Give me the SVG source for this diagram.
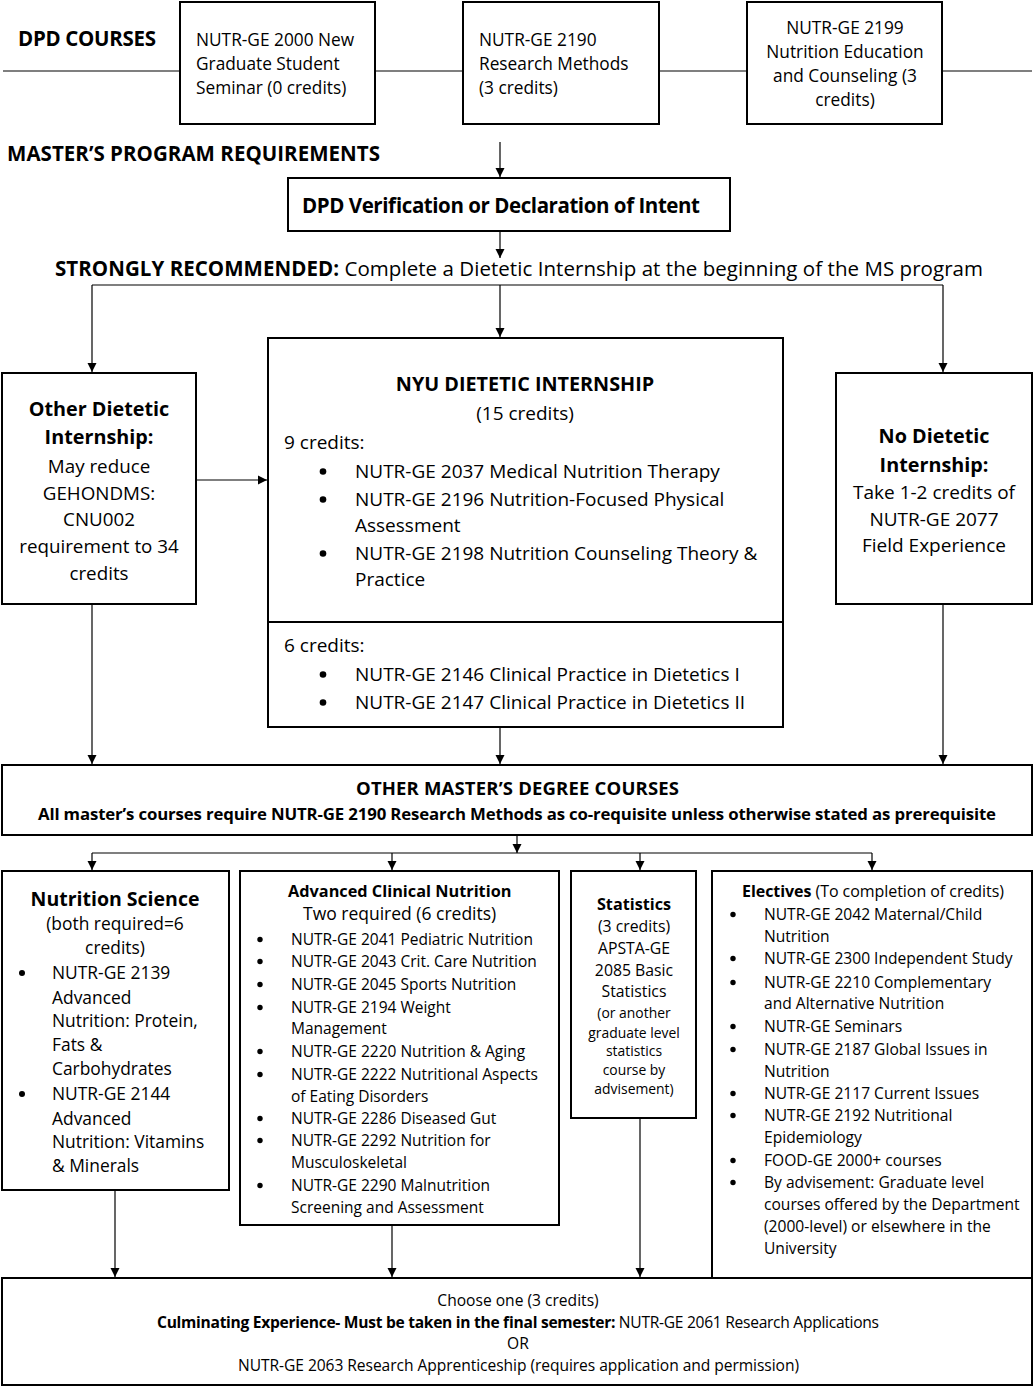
<svg xmlns="http://www.w3.org/2000/svg" width="1036" height="1387" viewBox="0 0 1036 1387">
<defs>
<marker id="ah" viewBox="0 0 10 10" refX="10" refY="5" markerWidth="9" markerHeight="10" markerUnits="userSpaceOnUse" orient="auto">
<path d="M0,0 L10,5 L0,10 z" fill="#000"/>
</marker>
<style>
text{font-family:"Open Sans","Noto Sans",sans-serif;fill:#000}
.b{font-weight:bold}
.c{text-anchor:middle}
.box{fill:#fff;stroke:#000;stroke-width:2}
.ln{fill:none;stroke:#000;stroke-width:1.2}
.ar{fill:none;stroke:#000;stroke-width:1.2;marker-end:url(#ah)}
.dot{fill:#000}
.t1{font-size:17.3px}
.hb{font-size:19.8px}
.m19{font-size:19px}
.od{font-size:18.8px}
.ns{font-size:17.4px}
.ac{font-size:15.5px}
.st{font-size:15.8px}
.s14{font-size:13.9px}
.el{font-size:15.6px}
.f16{font-size:15.6px}
</style>
</defs>
<rect width="1036" height="1387" fill="#fff"/>

<g id="connectors">
<line class="ln" x1="3" y1="71" x2="1032" y2="71"/>
<line class="ar" x1="500" y1="142" x2="500" y2="177"/>
<line class="ar" x1="500" y1="231" x2="500" y2="258"/>
<polyline class="ln" points="92,285 943,285"/>
<line class="ar" x1="92" y1="285" x2="92" y2="372"/>
<line class="ar" x1="500" y1="285" x2="500" y2="337"/>
<line class="ar" x1="943" y1="285" x2="943" y2="372"/>
<line class="ar" x1="196" y1="480" x2="267" y2="480"/>
<line class="ar" x1="92" y1="604" x2="92" y2="764"/>
<line class="ar" x1="500" y1="727" x2="500" y2="764"/>
<line class="ar" x1="943" y1="604" x2="943" y2="764"/>
<line class="ar" x1="517" y1="835" x2="517" y2="853"/>
<polyline class="ln" points="92,853 872,853"/>
<line class="ar" x1="92" y1="853" x2="92" y2="870"/>
<line class="ar" x1="392" y1="853" x2="392" y2="870"/>
<line class="ar" x1="640" y1="853" x2="640" y2="870"/>
<line class="ar" x1="872" y1="853" x2="872" y2="870"/>
<line class="ar" x1="115" y1="1190" x2="115" y2="1277"/>
<line class="ar" x1="392" y1="1225" x2="392" y2="1277"/>
<line class="ar" x1="640" y1="1118" x2="640" y2="1277"/>
</g>

<g id="title-dpd">
<text class="b" font-size="20.5" x="18" y="46" textLength="138">DPD COURSES</text>
</g>

<g id="n2000">
<rect class="box" x="180" y="2" width="195" height="122"/>
<text class="t1" x="196" y="46">NUTR-GE 2000 New</text>
<text class="t1" x="196" y="70">Graduate Student</text>
<text class="t1" x="196" y="94">Seminar (0 credits)</text>
</g>

<g id="n2190">
<rect class="box" x="463" y="2" width="196" height="122"/>
<text class="t1" x="479" y="46">NUTR-GE 2190</text>
<text class="t1" x="479" y="70">Research Methods</text>
<text class="t1" x="479" y="94">(3 credits)</text>
</g>

<g id="n2199">
<rect class="box" x="747" y="2" width="195" height="122"/>
<text class="t1 c" x="845" y="34">NUTR-GE 2199</text>
<text class="t1 c" x="845" y="58">Nutrition Education</text>
<text class="t1 c" x="845" y="82">and Counseling (3</text>
<text class="t1 c" x="845" y="106">credits)</text>
</g>

<g id="title-master">
<text class="b" font-size="20.5" x="7" y="161" textLength="373">MASTER’S PROGRAM REQUIREMENTS</text>
</g>

<g id="dpd-verification">
<rect class="box" x="288" y="178" width="442" height="53"/>
<text class="b" font-size="20.5" x="302" y="213" textLength="398">DPD Verification or Declaration of Intent</text>
</g>

<g id="recommended">
<text font-size="20.5" x="55" y="276" textLength="928"><tspan class="b">STRONGLY RECOMMENDED:</tspan> Complete a Dietetic Internship at the beginning of the MS program</text>
</g>

<g id="other-di">
<rect class="box" x="2" y="373" width="194" height="231"/>
<text class="b hb c" x="99" y="416">Other Dietetic</text>
<text class="b hb c" x="99" y="444">Internship:</text>
<text class="od c" x="99" y="473">May reduce</text>
<text class="od c" x="99" y="500">GEHONDMS:</text>
<text class="od c" x="99" y="526">CNU002</text>
<text class="od c" x="99" y="553">requirement to 34</text>
<text class="od c" x="99" y="580">credits</text>
</g>

<g id="nyu-di">
<rect class="box" x="268" y="338" width="515" height="389"/>
<line x1="268" y1="622" x2="783" y2="622" stroke="#000" stroke-width="2"/>
<text class="b hb c" x="525" y="391">NYU DIETETIC INTERNSHIP</text>
<text class="m19 c" x="525" y="420">(15 credits)</text>
<text class="m19" x="284" y="449">9 credits:</text>
<circle class="dot" cx="323" cy="471.5" r="3.3"/>
<text class="m19" x="355" y="478">NUTR-GE 2037 Medical Nutrition Therapy</text>
<circle class="dot" cx="323" cy="499.5" r="3.3"/>
<text class="m19" x="355" y="506">NUTR-GE 2196 Nutrition-Focused Physical</text>
<text class="m19" x="355" y="532">Assessment</text>
<circle class="dot" cx="323" cy="553.5" r="3.3"/>
<text class="m19" x="355" y="560">NUTR-GE 2198 Nutrition Counseling Theory &amp;</text>
<text class="m19" x="355" y="586">Practice</text>
<text class="m19" x="284" y="652">6 credits:</text>
<circle class="dot" cx="323" cy="674.5" r="3.3"/>
<text class="m19" x="355" y="681">NUTR-GE 2146 Clinical Practice in Dietetics I</text>
<circle class="dot" cx="323" cy="702.5" r="3.3"/>
<text class="m19" x="355" y="709">NUTR-GE 2147 Clinical Practice in Dietetics II</text>
</g>

<g id="no-di">
<rect class="box" x="836" y="373" width="196" height="231"/>
<text class="b hb c" x="934" y="443">No Dietetic</text>
<text class="b hb c" x="934" y="472">Internship:</text>
<text class="m19 c" x="934" y="499">Take 1-2 credits of</text>
<text class="m19 c" x="934" y="526">NUTR-GE 2077</text>
<text class="m19 c" x="934" y="552">Field Experience</text>
</g>

<g id="other-masters">
<rect class="box" x="2" y="765" width="1030" height="70"/>
<text class="b" font-size="18.5" x="356" y="795" textLength="323">OTHER MASTER’S DEGREE COURSES</text>
<text class="b" font-size="16.8" x="38" y="820" textLength="958">All master’s courses require NUTR-GE 2190 Research Methods as co-requisite unless otherwise stated as prerequisite</text>
</g>

<g id="nutrition-science">
<rect class="box" x="2" y="871" width="227" height="319"/>
<text class="b c" font-size="19.5" x="115" y="906">Nutrition Science</text>
<text class="ns c" x="115" y="930">(both required=6</text>
<text class="ns c" x="115" y="954">credits)</text>
<circle class="dot" cx="22" cy="973" r="3"/>
<text class="ns" x="52" y="979">NUTR-GE 2139</text>
<text class="ns" x="52" y="1004">Advanced</text>
<text class="ns" x="52" y="1027">Nutrition: Protein,</text>
<text class="ns" x="52" y="1051">Fats &amp;</text>
<text class="ns" x="52" y="1075">Carbohydrates</text>
<circle class="dot" cx="22" cy="1094" r="3"/>
<text class="ns" x="52" y="1100">NUTR-GE 2144</text>
<text class="ns" x="52" y="1125">Advanced</text>
<text class="ns" x="52" y="1148">Nutrition: Vitamins</text>
<text class="ns" x="52" y="1172">&amp; Minerals</text>
</g>

<g id="adv-clinical">
<rect class="box" x="240" y="871" width="319" height="354"/>
<text class="b" font-size="16.3" x="288" y="897">Advanced Clinical Nutrition</text>
<text font-size="17.5" x="303" y="920">Two required (6 credits)</text>
<circle class="dot" cx="260" cy="939.5" r="2.7"/><text class="ac" x="291" y="945">NUTR-GE 2041 Pediatric Nutrition</text>
<circle class="dot" cx="260" cy="961.5" r="2.7"/><text class="ac" x="291" y="967">NUTR-GE 2043 Crit. Care Nutrition</text>
<circle class="dot" cx="260" cy="984.5" r="2.7"/><text class="ac" x="291" y="990">NUTR-GE 2045 Sports Nutrition</text>
<circle class="dot" cx="260" cy="1007.5" r="2.7"/><text class="ac" x="291" y="1013">NUTR-GE 2194 Weight</text>
<text class="ac" x="291" y="1034">Management</text>
<circle class="dot" cx="260" cy="1051.5" r="2.7"/><text class="ac" x="291" y="1057">NUTR-GE 2220 Nutrition &amp; Aging</text>
<circle class="dot" cx="260" cy="1074.5" r="2.7"/><text class="ac" x="291" y="1080">NUTR-GE 2222 Nutritional Aspects</text>
<text class="ac" x="291" y="1102">of Eating Disorders</text>
<circle class="dot" cx="260" cy="1118.5" r="2.7"/><text class="ac" x="291" y="1124">NUTR-GE 2286 Diseased Gut</text>
<circle class="dot" cx="260" cy="1140.5" r="2.7"/><text class="ac" x="291" y="1146">NUTR-GE 2292 Nutrition for</text>
<text class="ac" x="291" y="1168">Musculoskeletal</text>
<circle class="dot" cx="260" cy="1185.5" r="2.7"/><text class="ac" x="291" y="1191">NUTR-GE 2290 Malnutrition</text>
<text class="ac" x="291" y="1213">Screening and Assessment</text>
</g>

<g id="statistics">
<rect class="box" x="571" y="871" width="125" height="247"/>
<text class="b c" font-size="16.2" x="634" y="910">Statistics</text>
<text class="st c" x="634" y="932">(3 credits)</text>
<text class="st c" x="634" y="954">APSTA-GE</text>
<text class="st c" x="634" y="976">2085 Basic</text>
<text class="st c" x="634" y="997">Statistics</text>
<text class="s14 c" x="634" y="1018">(or another</text>
<text class="s14 c" x="634" y="1038">graduate level</text>
<text class="s14 c" x="634" y="1056">statistics</text>
<text class="s14 c" x="634" y="1075">course by</text>
<text class="s14 c" x="634" y="1094">advisement)</text>
</g>

<g id="electives">
<rect class="box" x="712" y="871" width="320" height="407"/>
<text font-size="16" x="742" y="897" textLength="262"><tspan class="b">Electives</tspan> (To completion of credits)</text>
<circle class="dot" cx="733" cy="914.5" r="2.7"/><text class="el" x="764" y="920">NUTR-GE 2042 Maternal/Child</text>
<text class="el" x="764" y="942">Nutrition</text>
<circle class="dot" cx="733" cy="958.5" r="2.7"/><text class="el" x="764" y="964">NUTR-GE 2300 Independent Study</text>
<circle class="dot" cx="733" cy="982.5" r="2.7"/><text class="el" x="764" y="988">NUTR-GE 2210 Complementary</text>
<text class="el" x="764" y="1009">and Alternative Nutrition</text>
<circle class="dot" cx="733" cy="1026.5" r="2.7"/><text class="el" x="764" y="1032">NUTR-GE Seminars</text>
<circle class="dot" cx="733" cy="1049.5" r="2.7"/><text class="el" x="764" y="1055">NUTR-GE 2187 Global Issues in</text>
<text class="el" x="764" y="1077">Nutrition</text>
<circle class="dot" cx="733" cy="1093.5" r="2.7"/><text class="el" x="764" y="1099">NUTR-GE 2117 Current Issues</text>
<circle class="dot" cx="733" cy="1115.5" r="2.7"/><text class="el" x="764" y="1121">NUTR-GE 2192 Nutritional</text>
<text class="el" x="764" y="1143">Epidemiology</text>
<circle class="dot" cx="733" cy="1160.5" r="2.7"/><text class="el" x="764" y="1166">FOOD-GE 2000+ courses</text>
<circle class="dot" cx="733" cy="1182.5" r="2.7"/><text class="el" x="764" y="1188">By advisement: Graduate level</text>
<text class="el" x="764" y="1210">courses offered by the Department</text>
<text class="el" x="764" y="1232">(2000-level) or elsewhere in the</text>
<text class="el" x="764" y="1254">University</text>
</g>

<g id="culminating">
<rect class="box" x="2" y="1278" width="1030" height="107"/>
<text class="f16 c" x="518" y="1306">Choose one (3 credits)</text>
<text class="f16" x="157" y="1328" textLength="722"><tspan class="b">Culminating Experience- Must be taken in the final semester:</tspan> NUTR-GE 2061 Research Applications</text>
<text class="f16 c" x="518" y="1349">OR</text>
<text class="f16" x="238" y="1371" textLength="561">NUTR-GE 2063 Research Apprenticeship (requires application and permission)</text>
</g>
</svg>
